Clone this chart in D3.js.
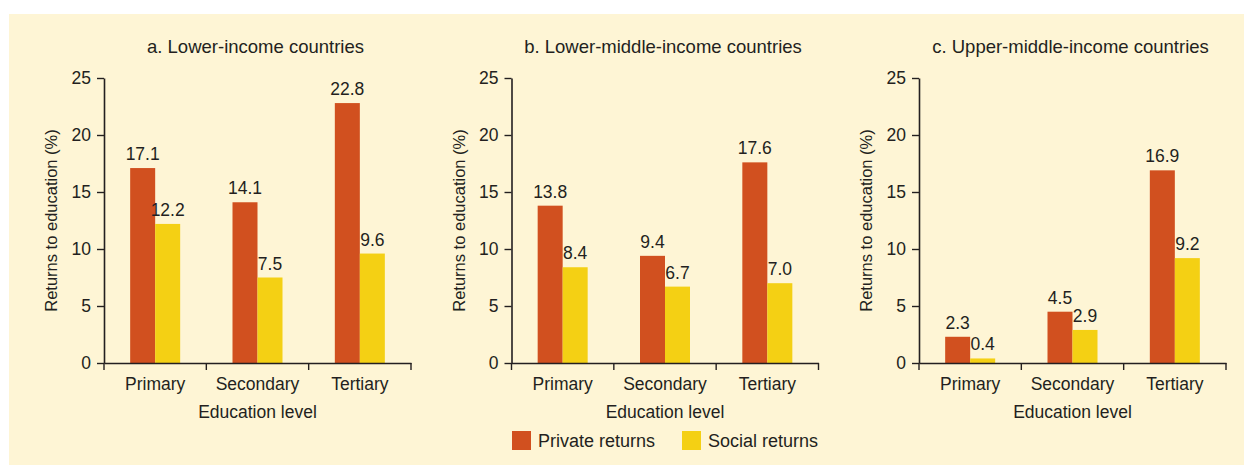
<!DOCTYPE html>
<html>
<head>
<meta charset="utf-8">
<script src="https://cdn.jsdelivr.net/npm/d3@7"></script>
<style>
  html, body { margin: 0; padding: 0; background: #ffffff; }
  svg { display: block; }
  text { font-family: "Liberation Sans", Arial, sans-serif; fill: #231f20; }
</style>
</head>
<body>
<svg id="chart" width="1244" height="465"></svg>
<script>
// ---- data ----
const panelTitles = ["a. Lower-income countries", "b. Lower-middle-income countries", "c. Upper-middle-income countries"];
const categories = ["Primary", "Secondary", "Tertiary"];
const seriesNames = ["Private returns", "Social returns"];
const privateReturns = [
  [17.1, 14.1, 22.8],
  [13.8, 9.4, 17.6],
  [2.3, 4.5, 16.9]
];
const socialReturns = [
  [12.2, 7.5, 9.6],
  [8.4, 6.7, 7.0],
  [0.4, 2.9, 9.2]
];
const yTicks = [0, 5, 10, 15, 20, 25];
const yLabel = "Returns to education (%)";
const xLabel = "Education level";

// ---- styles ----
const colors = ["#d1501f", "#f4d014"];
const bg = "#fef5d5";
const ink = "#231f20";

const svg = d3.select("#chart");
svg.append("rect").attr("x", 9).attr("y", 14).attr("width", 1244 - 9).attr("height", 465 - 14).attr("fill", bg);

const plotTop = 78, plotBottom = 363, plotW = 307;
const panelX0 = [104, 511.5, 919];

const y = d3.scaleLinear().domain([0, 25]).range([plotBottom, plotTop]);

panelTitles.forEach((title, p) => {
  const g = svg.append("g").attr("transform", `translate(${panelX0[p]},0)`);
  const x0 = d3.scaleBand().domain(categories).range([0, plotW]).padding(0);
  const bw = x0.bandwidth();
  const x1 = d3.scaleBand().domain(seriesNames).range([bw / 2 - 25, bw / 2 + 25]).padding(0);

  const rows = categories.map((c, i) => ({ cat: c, vals: [privateReturns[p][i], socialReturns[p][i]] }));

  // bars
  rows.forEach(r => {
    r.vals.forEach((v, s) => {
      const xx = x0(r.cat) + x1(seriesNames[s]);
      g.append("rect")
        .attr("x", xx).attr("y", y(v))
        .attr("width", x1.bandwidth()).attr("height", y(0) - y(v))
        .attr("fill", colors[s]);
      g.append("text")
        .attr("x", xx + x1.bandwidth() / 2).attr("y", y(v) - 8)
        .attr("text-anchor", "middle").attr("font-size", 17.5)
        .text(d3.format(".1f")(v));
    });
  });

  // y axis
  const ya = g.append("g").call(d3.axisLeft(y).tickValues(yTicks).tickSize(7).tickSizeOuter(0).tickPadding(6));
  ya.select(".domain").attr("stroke", ink).attr("stroke-width", 1.6);
  ya.selectAll(".tick line").attr("stroke", ink).attr("stroke-width", 1.4);
  ya.selectAll(".tick text").attr("font-size", 17.5).attr("font-family", "Liberation Sans, Arial, sans-serif").attr("fill", ink);

  // x axis
  const xa = g.append("g").attr("transform", `translate(0,${plotBottom})`)
    .call(d3.axisBottom(x0).tickSize(0).tickSizeOuter(0).tickPadding(15));
  xa.select(".domain").attr("stroke", ink).attr("stroke-width", 1.6);
  xa.selectAll(".tick text").attr("font-size", 17.5).attr("font-family", "Liberation Sans, Arial, sans-serif").attr("fill", ink);
  const bounds = categories.map(c => x0(c)).concat([x0.range()[1]]);
  g.selectAll(".btick").data(bounds).join("line")
    .attr("x1", d => d).attr("x2", d => d)
    .attr("y1", plotBottom).attr("y2", plotBottom + 7)
    .attr("stroke", ink).attr("stroke-width", 1.4);

  // titles
  g.append("text").attr("x", plotW / 2 - 2).attr("y", 53)
    .attr("text-anchor", "middle").attr("font-size", 18.5).text(title);
  g.append("text").attr("x", plotW / 2).attr("y", 418)
    .attr("text-anchor", "middle").attr("font-size", 17.5).text(xLabel);
  g.append("text")
    .attr("transform", `translate(-47,${(plotTop + plotBottom) / 2}) rotate(-90)`)
    .attr("text-anchor", "middle").attr("font-size", 16.5).text(yLabel);
});

// legend
const legendX = [512, 682];
seriesNames.forEach((s, i) => {
  svg.append("rect").attr("x", legendX[i]).attr("y", 431).attr("width", 19).attr("height", 19).attr("fill", colors[i]);
  svg.append("text").attr("x", legendX[i] + 26).attr("y", 447).attr("font-size", 18).text(s);
});
</script>
</body>
</html>
